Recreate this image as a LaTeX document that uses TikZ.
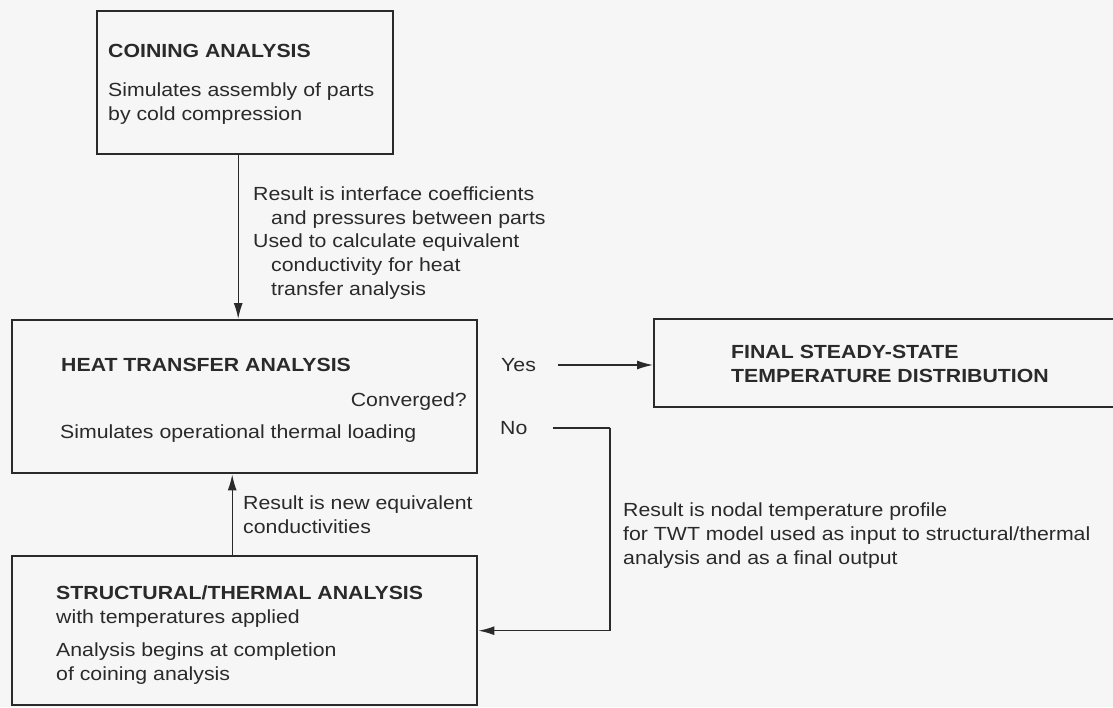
\documentclass[tikz,border=0pt]{standalone}
\usepackage{fontspec}
\setmainfont{Liberation Sans}[FakeStretch=1.12]
\usetikzlibrary{arrows.meta}
\definecolor{ink}{HTML}{2A2A2A}
\definecolor{paper}{HTML}{F6F6F6}
\tikzset{
  box/.style={draw=ink, line width=2.4pt, rectangle, inner sep=0pt, anchor=north west},
  txt/.style={inner sep=0pt, anchor=base west, align=left, text=ink,
              font=\fontsize{19}{23.6}\selectfont},
  ttl/.style={txt, font=\fontsize{19}{23.6}\selectfont\bfseries},
  conn/.style={draw=ink, line width=1.4pt},
  arr/.style={conn, -{Latex[length=16pt,width=9pt]}}
}
\begin{document}
\begin{tikzpicture}[x=1pt, y=-1pt]
\fill[paper] (0,0) rectangle (1113,707);
\useasboundingbox (0,0) rectangle (1113,707);
\clip (0,0) rectangle (1113,707);

% boxes
\node[box, minimum width=296pt, minimum height=143pt] (coin) at (96,10) {};
\node[box, minimum width=465pt, minimum height=153pt] (heat) at (11,319) {};
\node[box, minimum width=500pt, minimum height=88pt] (final) at (653,318) {};
\node[box, minimum width=465pt, minimum height=149pt] (struct) at (11,555) {};

% box texts (multi-line nodes are placed at the baseline of their last line)
\node[ttl] (coinT) at (108,57) {COINING ANALYSIS};
\node[txt] (coinD) at (108,120.5) {Simulates assembly of parts\\by cold compression};

\node[ttl] (heatT) at (61,371.5) {HEAT TRANSFER ANALYSIS};
\node[txt, anchor=base east] (conv) at (467,406.5) {Converged?};
\node[txt] (heatD) at (60,438.5) {Simulates operational thermal loading};

\node[ttl] (finT) at (731,382.5) {FINAL STEADY-STATE\\TEMPERATURE DISTRIBUTION};

\node[ttl] (strT) at (56,599.5) {STRUCTURAL/THERMAL ANALYSIS};
\node[txt] (strW) at (56,623) {with temperatures applied};
\node[txt] (strD) at (56,680) {Analysis begins at completion\\of coining analysis};

% labels
\node[txt] (lab1) at (253,295) {Result is interface coefficients\\
  \hspace*{18pt}and pressures between parts\\
  Used to calculate equivalent\\
  \hspace*{18pt}conductivity for heat\\
  \hspace*{18pt}transfer analysis};
\node[txt] (lab2) at (243,533) {Result is new equivalent\\conductivities};
\node[txt] (lab3) at (623,564) {Result is nodal temperature profile\\
  for TWT model used as input to structural/thermal\\
  analysis and as a final output};

\node[txt] (yes) at (501,371.5) {Yes};
\node[txt] (no) at (500,434.5) {No};

% connectors
\draw[arr] ([xshift=-7pt]coin.south) -- ([xshift=-7pt]coin.south |- heat.north);
\draw[arr] ([xshift=-12.5pt]struct.north) -- ([xshift=-12.5pt]struct.north |- heat.south);
\draw[arr] ([xshift=22pt,yshift=6.5pt]yes.base east) -- ([yshift=6.5pt]yes.base east -| final.west);
\coordinate (turn) at (610,428);
\draw[conn] ([xshift=25pt,yshift=6.5pt]no.base east) -- (turn);
\draw[arr] (turn) |- (struct.east);
\end{tikzpicture}
\end{document}
